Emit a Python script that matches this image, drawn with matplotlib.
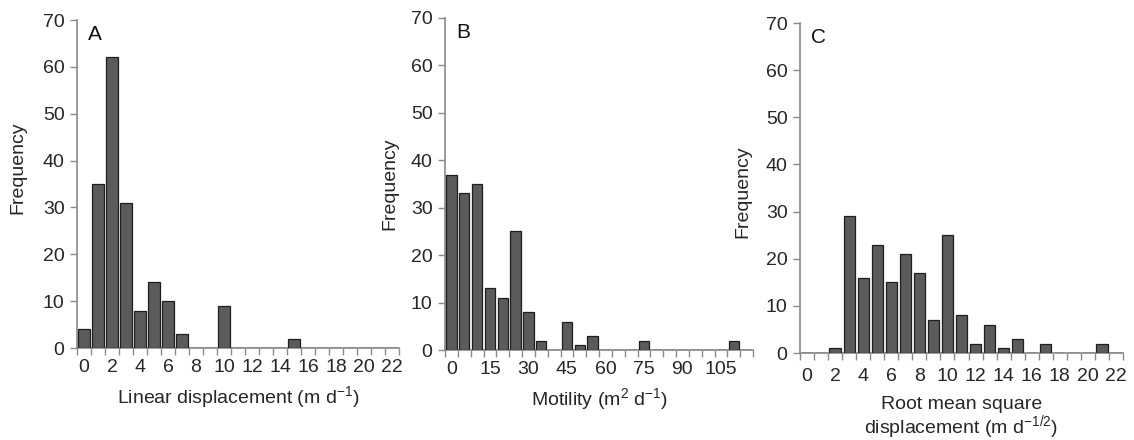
import numpy as np
import matplotlib
matplotlib.use("Agg")
import matplotlib.pyplot as plt

plt.rcParams['font.family'] = ['Liberation Sans', 'DejaVu Sans']
plt.rcParams['mathtext.default'] = 'regular'

# panel A: linear displacement classes (m d-1)
lin_bins = list(range(0, 23))
lin_freq = [4, 35, 62, 31, 8, 14, 10, 3, 0, 0, 9, 0, 0, 0, 0, 2,
            0, 0, 0, 0, 0, 0, 0]

# panel B: motility classes (m2 d-1)
mot_bins = list(range(0, 120, 5))
mot_freq = [37, 33, 35, 13, 11, 25, 8, 2, 0, 6, 1, 3, 0, 0, 0, 2,
            0, 0, 0, 0, 0, 0, 2, 0]

# panel C: root mean square displacement classes (m d-1/2)
rms_bins = list(range(0, 23))
rms_freq = [0, 0, 1, 29, 16, 23, 15, 21, 17, 7, 25, 8, 2, 6, 1, 3,
            0, 2, 0, 0, 0, 2, 0]

W, H = 1134, 440
fig = plt.figure(figsize=(W / 100, H / 100), dpi=100)

axis_col = '#8a8a8a'
text_col = '#262626'
fs = 14


def px_rect(l, r, t, b):
    return [l / W, (H - b) / H, (r - l) / W, (b - t) / H]


def panel(rect, bins, freq, step, letter, xlabel, ylab_x, ylab_y,
          tickpad, xlabelpad):
    ax = fig.add_axes(rect)
    n = len(bins)
    x = np.arange(n)
    ax.bar(x, freq, width=0.8, color='#5b5b5b', edgecolor='#1e1e1e',
           linewidth=0.9, zorder=3)
    ax.set_xlim(-0.5, n - 0.5)
    ax.set_ylim(0, 70)
    ax.set_yticks(range(0, 71, 10))
    ax.set_xticks(x[::step])
    ax.set_xticklabels([str(b) for b in bins[::step]])
    ax.set_xticks(np.arange(n + 1) - 0.5, minor=True)
    ax.tick_params(axis='x', which='major', length=0, pad=tickpad,
                   labelsize=fs, labelcolor=text_col)
    ax.tick_params(axis='x', which='minor', length=5, width=1,
                   color=axis_col, direction='out')
    ax.tick_params(axis='y', length=5, width=1, color=axis_col, pad=4,
                   labelsize=fs, labelcolor=text_col)
    for s in ['top', 'right']:
        ax.spines[s].set_visible(False)
    for s in ['left', 'bottom']:
        ax.spines[s].set_color(axis_col)
        ax.spines[s].set_linewidth(1.2)
    ax.set_xlabel(xlabel, fontsize=fs, color=text_col, labelpad=xlabelpad,
                  linespacing=1.0)
    ax.set_ylabel('Frequency', fontsize=fs, color=text_col)
    ax.yaxis.set_label_coords(ylab_x, ylab_y)
    ax.text(0.035, 0.985, letter, transform=ax.transAxes, fontsize=15,
            color='#111111', va='top', ha='left')
    return ax


panel(px_rect(77, 399, 20, 348), lin_bins, lin_freq, 2, 'A',
      'Linear displacement (m d$^{-1}$)', -0.158, 0.55, 8, 6)
panel(px_rect(445, 753, 18, 350), mot_bins, mot_freq, 3, 'B',
      'Motility (m$^{2}$ d$^{-1}$)', -0.153, 0.5, 8, 6)
panel(px_rect(800, 1123, 23, 353), rms_bins, rms_freq, 2, 'C',
      'Root mean square\ndisplacement (m d$^{-1/2}$)', -0.149, 0.49, 11, 8)

fig.savefig('out.png', dpi=100, facecolor='white')
